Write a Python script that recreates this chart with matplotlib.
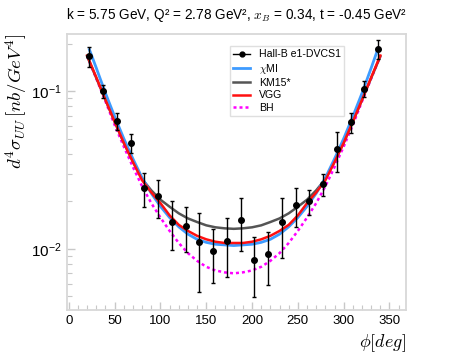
import numpy as np
import matplotlib
matplotlib.use("Agg")
import matplotlib.pyplot as plt
from matplotlib.lines import Line2D

# Hall-B e1-DVCS1 data
phi_data = [22.5, 37.5, 52.5, 67.5, 82.5, 97.5, 112.5, 127.5, 142.5, 157.5, 172.5,
            187.5, 202.5, 217.5, 232.5, 247.5, 262.5, 277.5, 292.5, 307.5, 322.5, 337.5]
sigma_data = [0.1666, 0.100, 0.0648, 0.0469, 0.0244, 0.0216, 0.0149, 0.0140, 0.0111, 0.0097, 0.0112,
              0.0153, 0.00848, 0.00933, 0.0148, 0.0190, 0.0200, 0.0257, 0.0430, 0.0637, 0.1034, 0.1844]
sigma_err = [0.024, 0.0096, 0.0078, 0.0066, 0.0059, 0.0058, 0.0051, 0.0044, 0.0058, 0.0036, 0.0046,
             0.0056, 0.0035, 0.0034, 0.0061, 0.0052, 0.0037, 0.0042, 0.0122, 0.0092, 0.012, 0.025]

# model curves
phi_chimi = [22.5, 30, 40, 50, 60, 70, 80, 90, 100, 110, 120, 130, 140, 150, 160, 170, 180,
             190, 200, 210, 220, 230, 240, 250, 260, 270, 280, 290, 300, 310, 320, 330, 337.5]
chimi = [0.183, 0.140, 0.097, 0.069, 0.050, 0.0372, 0.0282, 0.0225, 0.0186, 0.0158, 0.0138, 0.0124,
         0.0115, 0.0110, 0.0107, 0.0106, 0.0105, 0.0106, 0.0107, 0.0110, 0.0115, 0.0124, 0.0138,
         0.0158, 0.0186, 0.0225, 0.0282, 0.0372, 0.050, 0.069, 0.097, 0.140, 0.186]

phi_model = [20, 30, 40, 50, 60, 70, 80, 90, 100, 110, 120, 130, 140, 150, 160, 170, 180,
             190, 200, 210, 220, 230, 240, 250, 260, 270, 280, 290, 300, 310, 320, 330, 340]
km15 = [0.166, 0.121, 0.088, 0.064, 0.047, 0.0357, 0.0277, 0.0235, 0.0205, 0.0185, 0.0168, 0.0156,
        0.0148, 0.0141, 0.0137, 0.0135, 0.0134, 0.0135, 0.0137, 0.0141, 0.0148, 0.0156, 0.0168,
        0.0185, 0.0205, 0.0235, 0.0277, 0.0357, 0.047, 0.064, 0.088, 0.121, 0.166]
vgg = [0.168, 0.122, 0.088, 0.064, 0.047, 0.0355, 0.0272, 0.0228, 0.0195, 0.0163, 0.0142, 0.0130,
       0.0121, 0.0115, 0.0111, 0.0109, 0.0109, 0.0109, 0.0111, 0.0115, 0.0121, 0.0130, 0.0142,
       0.0163, 0.0195, 0.0228, 0.0272, 0.0355, 0.047, 0.064, 0.088, 0.122, 0.168]
bh = [0.166, 0.120, 0.086, 0.061, 0.0445, 0.0330, 0.0249, 0.0195, 0.0158, 0.0130, 0.0109, 0.0094,
      0.0084, 0.0077, 0.0073, 0.0071, 0.0070, 0.0071, 0.0073, 0.0077, 0.0084, 0.0094, 0.0109,
      0.0130, 0.0158, 0.0195, 0.0249, 0.0330, 0.0445, 0.061, 0.086, 0.120, 0.166]

plt.rcParams['font.family'] = ['Liberation Sans', 'DejaVu Sans']
plt.rcParams['mathtext.fontset'] = 'cm'

fig = plt.figure(figsize=(4.49, 3.59), dpi=100)
ax = fig.add_axes([0.1492, 0.1365, 0.755, 0.7688])

ax.errorbar(phi_data, sigma_data, yerr=sigma_err, fmt='o', color='black', ms=4,
            elinewidth=1.0, capsize=1.5, capthick=1.0, zorder=6)
l1, = ax.plot(phi_chimi, chimi, color='#3d9bff', lw=2.0, label=r'$\chi$MI', zorder=3)
l2, = ax.plot(phi_model, km15, color='#555555', lw=1.8, label='KM15*', zorder=2.5)
l3, = ax.plot(phi_model, vgg, color='#ff1010', lw=1.8, label='VGG', zorder=4)
l4, = ax.plot(phi_model, bh, color='#ff00ff', lw=1.8, ls=(0, (1.2, 1.2)), label='BH', zorder=2)
hdata = Line2D([], [], color='black', marker='o', ms=3.5, lw=1.0, label='Hall-B e1-DVCS1')

ax.set_yscale('log')
ax.set_xlim(-2, 368)
ax.set_ylim(0.0041, 0.23)
ax.set_xticks(np.arange(0, 351, 50))
ax.set_xticks(np.arange(0, 361, 10), minor=True)

for s in ax.spines.values():
    s.set_color('#d8d8d8')
    s.set_linewidth(1.3)
ax.tick_params(which='both', direction='in', color='#c8c8c8', labelsize=9.5)
ax.tick_params(which='major', length=6, width=1.0)
ax.tick_params(which='minor', length=3.5, width=0.8)
ax.tick_params(axis='y', labelsize=11)

ax.set_xlabel(r'$\phi[deg]$', fontsize=13, loc='right')
ax.set_ylabel(r'$d^4\sigma_{UU}\,[nb/GeV^4]$', fontsize=13.5, loc='top', labelpad=2)
ax.set_title(r'k = 5.75 GeV, Q² = 2.78 GeV², $x_B$ = 0.34, t = -0.45 GeV²', fontsize=9.8, pad=11)

leg = ax.legend(handles=[hdata, l1, l2, l3, l4], loc='upper left',
                bbox_to_anchor=(0.466, 0.975), fontsize=7.6,
                frameon=True, fancybox=False, handlelength=1.6, borderpad=0.3,
                labelspacing=0.22, handletextpad=0.8)
leg.get_frame().set_edgecolor('#d8d8d8')
leg.get_frame().set_linewidth(1.0)

fig.savefig('out.png', dpi=100)
